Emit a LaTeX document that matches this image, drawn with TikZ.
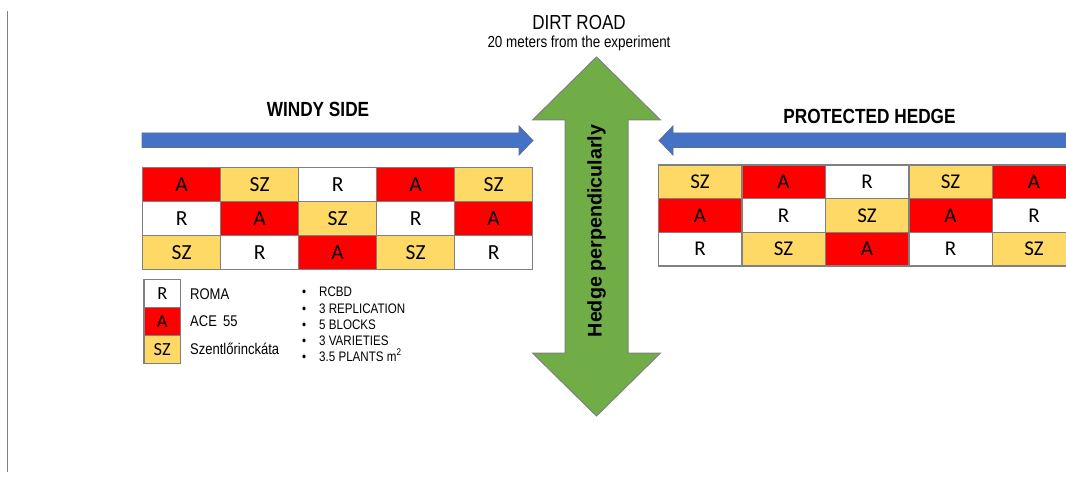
\documentclass[tikz,border=0pt]{standalone}
\usepackage{fontspec}
\setmainfont{Liberation Sans}[FakeStretch=0.84]
\newfontfamily\hedgefont{Liberation Sans}
\newfontfamily\cellfont{Carlito}
\definecolor{cred}{HTML}{FF0000}
\definecolor{cyel}{HTML}{FFD966}
\definecolor{cblue}{HTML}{4472C4}
\definecolor{cblueline}{HTML}{5B6E96}
\definecolor{cgreen}{HTML}{70AD47}
\definecolor{cgrid}{HTML}{808080}
\newcommand{\fs}[1]{\fontsize{#1}{#1}\selectfont}
\begin{document}
\begin{tikzpicture}[x=1pt,y=-1pt,
  cellL/.style={draw=cgrid,line width=1.4pt,minimum width=78pt,minimum height=33.9pt,inner sep=0pt,anchor=center,font=\cellfont\fs{21.5}},
  cellR/.style={draw=cgrid,line width=1.4pt,minimum width=83.5pt,minimum height=33.7pt,inner sep=0pt,anchor=center,font=\cellfont\fs{21}},
  legbox/.style={draw=cgrid,line width=1.4pt,minimum width=36.7pt,minimum height=28pt,inner sep=0pt,anchor=center,font=\cellfont\fs{18.5}},
  legtext/.style={anchor=base west,inner sep=0pt,font=\fs{15.5}},
  bul/.style={anchor=base west,inner sep=0pt,font=\fs{13.8}},
  title/.style={anchor=base,inner sep=0pt,font=\bfseries\fs{20.5}},
  bluearrow/.style={fill=cblue,draw=cblueline,line width=0.8pt},
  R/.style={fill=white},A/.style={fill=cred},SZ/.style={fill=cyel}]
\useasboundingbox (0,0) rectangle (1066,481);
\clip (0,0) rectangle (1066,481);
% left vertical rule
\coordinate (vt) at (7,11);
\coordinate (vb) at (7,472);
\draw[cgrid,line width=1pt] (vt) -- (vb);
% top labels
\node[anchor=base,inner sep=0pt,font=\fs{20.3}] (road) at (579,30) {DIRT ROAD};
\node[anchor=base,inner sep=0pt,font=\fs{16}] (dist) at (579,48) {20 meters from the experiment};
\node[title] (windy) at (318,116.7) {WINDY SIDE};
\node[title] (prot) at (869.5,123.3) {PROTECTED HEDGE};
% blue arrows
\draw[bluearrow] (142,133) -- (519,133) -- (519,126) -- (533,140.5) -- (519,155) -- (519,147.5) -- (142,147.5) -- cycle;
\draw[bluearrow] (1075,133) -- (673,133) -- (673,126) -- (659,140.5) -- (673,155) -- (673,147.5) -- (1075,147.5) -- cycle;
% green double arrow
\draw[fill=cgreen,draw=cgrid,line width=1pt]
  (596.5,57) -- (660.5,120) -- (628,120) -- (628,353) -- (660.5,353) -- (596.5,416)
  -- (532.5,353) -- (565,353) -- (565,120) -- (532.5,120) -- cycle;
\node[rotate=90,inner sep=0pt,font=\hedgefont\bfseries\fs{19.7}] (hedge) at (596.5,231) {Hedge perpendicularly};
% left table
\foreach \r/\row in {0/{A,SZ,R,A,SZ},1/{R,A,SZ,R,A},2/{SZ,R,A,SZ,R}}{
  \foreach \v [count=\c from 0] in \row {
    \node[cellL,\v] (L-\r-\c) at ({142.7+39+78*\c},{167.7+16.95+33.9*\r}) {\v};
  }
}
% right table
\foreach \r/\row in {0/{SZ,A,R,SZ,A},1/{A,R,SZ,A,R},2/{R,SZ,A,R,SZ}}{
  \foreach \v [count=\c from 0] in \row {
    \node[cellR,\v] (Rt-\r-\c) at ({658.3+41.75+83.5*\c},{165+16.85+33.7*\r}) {\v};
  }
}
% legend
\node[legbox,R] (legR) at (162.3,293.3) {R};
\node[legbox,A] (legA) at (162.3,321.3) {A};
\node[legbox,SZ] (legSZ) at (162.3,349.3) {SZ};
\node[legtext] (tR) at (190,299) {ROMA};
\node[legtext] (tA) at (190,326.5) {ACE\, 55};
\node[legtext] (tSZ) at (190,354) {Szentlőrinckáta};
% bullets
\foreach \y/\t [count=\i] in {297/RCBD,313.5/3 REPLICATION,329/5 BLOCKS,345/3 VARIETIES,361/{3.5 PLANTS m\textsuperscript{2}}}{
  \node[bul] (b\i) at (302,\y) {\textbullet};
  \node[bul] (bt\i) at (319,\y) {\t};
}
\end{tikzpicture}
\end{document}
